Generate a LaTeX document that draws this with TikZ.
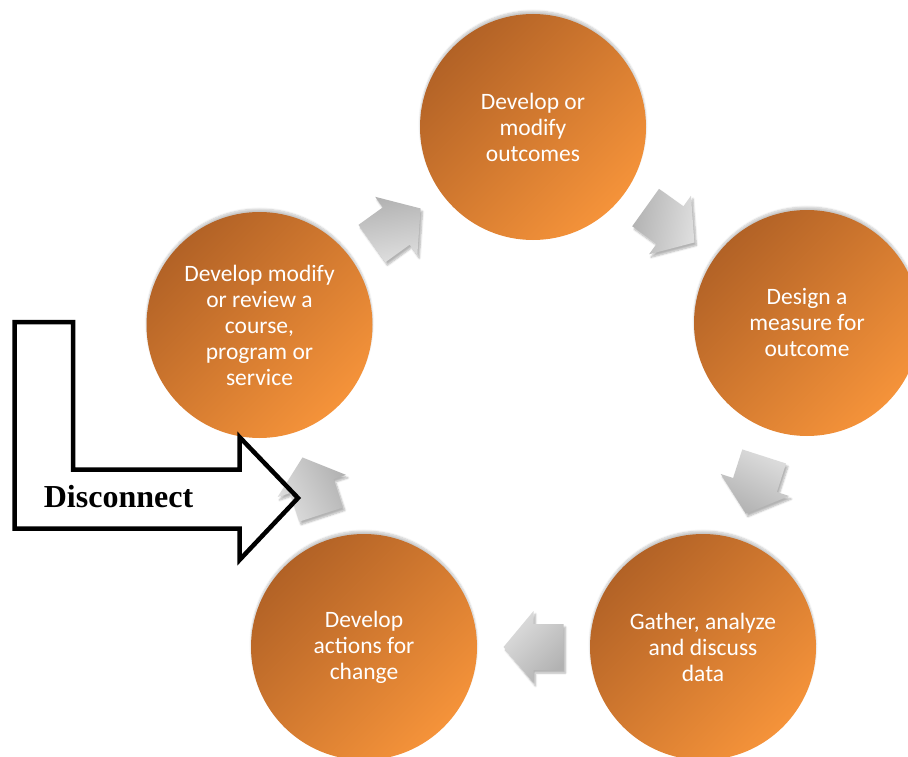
\documentclass[tikz,border=0pt]{standalone}
\usepackage{fontspec}
\setmainfont{Carlito}
\newfontfamily\disfont{Liberation Serif}
\usetikzlibrary{positioning,calc,shadows.blur}
\definecolor{stagedark}{RGB}{178,98,38}
\definecolor{stagelight}{RGB}{245,147,58}
\definecolor{arrowdark}{RGB}{178,178,178}
\definecolor{arrowlight}{RGB}{222,222,222}

\begin{document}
\begin{tikzpicture}[x=1pt, y=-1pt,
    stage/.style={circle, minimum size=226pt, inner sep=0pt, align=center, text=white,
        font=\fontsize{23.5}{26}\selectfont,
        top color=stagedark, bottom color=stagelight, shading angle=45,
        blur shadow={shadow xshift=0pt, shadow yshift=3pt, shadow opacity=22, shadow blur steps=6}},
    cyclearrow/.style={top color=arrowdark, bottom color=arrowlight,
        blur shadow={shadow xshift=2pt, shadow yshift=-3pt, shadow opacity=30, shadow blur steps=6}},
    bigarrow/.style={draw=black, line width=4.5pt, line join=miter}]
    \useasboundingbox (0,0) rectangle (908,757);

    % Stages of the cycle
    \node[stage] (outcomes) at (533,127) {Develop or\\modify\\outcomes};
    \node[stage] (measure) at (807,323) {Design a\\measure for\\outcome};
    \node[stage] (gather) at (703,647) {Gather, analyze\\and discuss\\data};
    \node[stage] (actions) at (364,647) {Develop\\actions for\\change};
    \node[stage] (review) at (259.5,325) {Develop modify\\or review a\\course,\\program or\\service};

    % Gray arrows between the stages
    \foreach \from/\to/\ang in {review/outcomes/35.8, outcomes/measure/-35.6,
        measure/gather/-107.8, gather/actions/180, actions/review/108} {
        \begin{scope}[shift={($(\from)!0.5!(\to)$)}, rotate=\ang]
            \path[cyclearrow, shading angle={45-\ang}]
                (-30,-23) -- (0,-23) -- (0,-36) -- (30,0) -- (0,36) -- (0,23) -- (-30,23) -- cycle;
        \end{scope}
    }

    % Disconnect arrow
    \draw[bigarrow] (14.5,322) -- (73,322) -- (73,469.5) -- (239.5,469.5) -- (239.5,437)
        -- (298,498) -- (239.5,560) -- (239.5,528.5) -- (14.5,528.5) -- cycle;
    \node[font=\disfont\bfseries\fontsize{32}{36}\selectfont] (disconnect) at (118.5,497) {Disconnect};
\end{tikzpicture}
\end{document}
